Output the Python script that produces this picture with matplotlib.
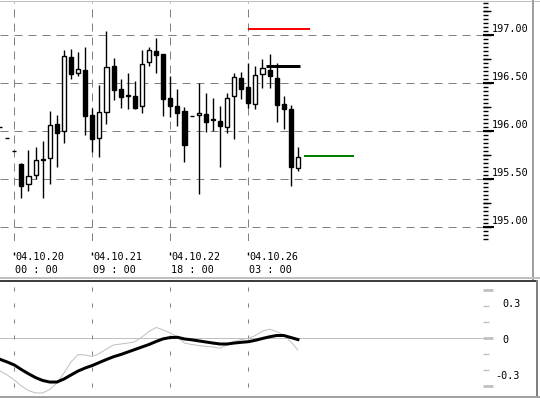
import numpy as np
import matplotlib
matplotlib.use('Agg')
import matplotlib.pyplot as plt
from matplotlib.lines import Line2D

plt.rcParams['lines.scale_dashes'] = False
plt.rcParams['font.family'] = ['DejaVu Sans Mono', 'DejaVu Sans']

# 3-hour bars, bar 0 = 04.10.20 00:00
bar_idx = np.arange(-2, 41)
opens = [196.04, 195.93, 195.79, 195.66, 195.45, 195.54, 195.70, 195.72, 196.07, 196.00,
         196.77, 196.60, 196.64, 196.17, 195.93, 196.20, 196.68, 196.44, 196.36, 196.36,
         196.26, 196.72, 196.83, 196.80, 196.34, 196.26, 196.21, 196.16, 196.17, 196.18,
         196.13, 196.10, 196.04, 196.36, 196.55, 196.46, 196.28, 196.59, 196.64, 196.55,
         196.28, 196.23, 195.61]
highs = [196.04, 195.93, 195.79, 195.67, 195.80, 195.83, 195.90, 196.21, 196.17, 196.84,
         196.85, 196.82, 196.88, 196.24, 196.48, 197.04, 196.76, 196.54, 196.60, 196.52,
         196.84, 196.88, 196.97, 196.80, 196.57, 196.44, 196.25, 196.16, 196.50, 196.40,
         196.34, 196.26, 196.40, 196.60, 196.61, 196.71, 196.68, 196.75, 196.80, 196.71,
         196.36, 196.27, 195.83]
lows = [196.04, 195.93, 195.79, 195.30, 195.38, 195.50, 195.30, 195.45, 195.63, 195.87,
        196.54, 196.57, 195.96, 195.78, 195.73, 196.07, 196.32, 196.24, 196.23, 196.23,
        196.19, 196.68, 196.60, 196.16, 196.15, 196.05, 195.68, 196.16, 195.34, 195.99,
        196.00, 195.62, 195.98, 195.92, 196.33, 196.24, 196.23, 196.45, 196.45, 196.09,
        196.02, 195.43, 195.58]
closes = [196.04, 195.93, 195.79, 195.43, 195.53, 195.70, 195.71, 196.06, 195.98, 196.78,
          196.59, 196.65, 196.16, 195.92, 196.20, 196.67, 196.43, 196.35, 196.37, 196.24,
          196.70, 196.84, 196.79, 196.33, 196.26, 196.19, 195.85, 196.16, 196.19, 196.09,
          196.115, 196.05, 196.34, 196.56, 196.44, 196.29, 196.58, 196.66, 196.57, 196.27,
          196.23, 195.63, 195.73]

# oscillator window
osc_slow = [-0.178, -0.200, -0.225, -0.263, -0.298, -0.330, -0.354, -0.367, -0.367, -0.342,
            -0.308, -0.275, -0.250, -0.229, -0.204, -0.179, -0.156, -0.138, -0.117, -0.096,
            -0.075, -0.054, -0.029, -0.007, 0.004, 0.006, -0.008, -0.015, -0.024, -0.033,
            -0.042, -0.050, -0.050, -0.042, -0.036, -0.031, -0.019, -0.004, 0.010, 0.021,
            0.021, 0.004, -0.013]
osc_fast = [-0.275, -0.308, -0.350, -0.400, -0.438, -0.458, -0.458, -0.429, -0.375, -0.292,
            -0.200, -0.138, -0.142, -0.154, -0.129, -0.092, -0.058, -0.050, -0.042, -0.032,
            0.008, 0.054, 0.088, 0.067, 0.042, 0.008, -0.042, -0.054, -0.063, -0.069,
            -0.075, -0.085, -0.058, -0.029, -0.013, -0.003, 0.021, 0.058, 0.073, 0.054,
            0.025, -0.033, -0.100]

# level lines: (price, start bar, end bar, colour, width px)
levels = [(197.066, 33.0, 41.7, '#ff0000', 2),
          (196.674, 35.5, 40.3, '#000000', 3),
          (195.743, 40.9, 47.9, '#008000', 2)]

grid_bars = [0, 11, 22, 33]
date_labels = ['04.10.20', '04.10.21', '04.10.22', '04.10.26']
time_labels = ['00 : 00', '09 : 00', '18 : 00', '03 : 00']
price_ticks = [195.0, 195.5, 196.0, 196.5, 197.0]
osc_labels = [0.3, 0.0, -0.3]

W, H = 540, 398
PX = 0.72  # one pixel in points at dpi 100
fig = plt.figure(figsize=(W / 100, H / 100), dpi=100)
fig.patch.set_facecolor('white')

xlim = (-14.3 / 7.0909, (483 - 14.3) / 7.0909)
ax = fig.add_axes([0, (H - 241) / H, 483 / W, 239 / H])
ax2 = fig.add_axes([0, (H - 395) / H, 483 / W, 113 / H])

for a in (ax, ax2):
    a.set_xlim(*xlim)
    for s in a.spines.values():
        s.set_visible(False)
    a.set_xticks([])
    a.patch.set_alpha(0)

# ---- price panel
ax.set_ylim(197 - 206 / 96, 197 + 33 / 96)
grid_dash = (0, (8 * PX, 6 * PX))
for p in price_ticks:
    ax.axhline(p, color='#808080', lw=PX, linestyle=grid_dash, zorder=0)
for g in grid_bars:
    ax.axvline(g, color='#808080', lw=PX, linestyle=grid_dash, zorder=0)

o = np.array(opens); c = np.array(closes)
ax.vlines(bar_idx, lows, highs, color='black', lw=1.0, zorder=2)
bull = c >= o
bottoms = np.minimum(o, c)
heights = np.abs(c - o)
ax.bar(bar_idx[bull], heights[bull], bottom=bottoms[bull], width=0.58,
       facecolor='white', edgecolor='black', linewidth=1.0, zorder=3)
ax.bar(bar_idx[~bull], heights[~bull], bottom=bottoms[~bull], width=0.58,
       facecolor='black', edgecolor='black', linewidth=1.0, zorder=3)

for price, b0, b1, col, w in levels:
    ax.hlines(price, b0, b1, color=col, lw=w * PX, zorder=4)

ax.yaxis.tick_right()
ax.set_yticks(price_ticks)
ax.set_yticklabels([])
ax.set_yticks(np.arange(194.875, 197.34, 1 / 24), minor=True)
ax.tick_params(axis='y', which='major', length=11 * PX, width=1.5, color='black', direction='out')
ax.tick_params(axis='y', which='minor', length=5 * PX, width=1, color='black', direction='out')
sec = ax.secondary_yaxis('right')
sec.set_yticks(np.arange(195.0, 197.3, 0.25))
sec.set_yticklabels([])
sec.tick_params(length=8 * PX, width=1, color='black')
sec.spines['right'].set_visible(False)

for p in price_ticks:
    ax.annotate(f'{p:.2f}', xy=(1, p), xycoords=('axes fraction', 'data'),
                xytext=(9, 1), textcoords='offset pixels', ha='left', va='bottom',
                fontsize=7.3, color='black')

xt = ax.get_xaxis_transform()
for g, d, t in zip(grid_bars, date_labels, time_labels):
    ax.vlines(g, -11 / 239, -14 / 239, transform=xt, color='black', lw=1, clip_on=False)
    ax.annotate(d, xy=(g, 0), xycoords=xt, xytext=(1, -16), textcoords='offset pixels',
                ha='left', va='center', fontsize=7.3)
    ax.annotate(t, xy=(g, 0), xycoords=xt, xytext=(1, -29), textcoords='offset pixels',
                ha='left', va='center', fontsize=7.3)

# ---- oscillator panel
ax2.set_ylim(-57 / 120, 56 / 120)
ax2.axhline(0, color='#c0c0c0', lw=PX, zorder=0)
for g in grid_bars:
    ax2.axvline(g, color='#808080', lw=PX, linestyle=(8 * PX, (4 * PX, 12 * PX)), zorder=0)
ax2.plot(bar_idx, osc_fast, color='#c0c0c0', lw=PX, zorder=2)
ax2.plot(bar_idx, osc_slow, color='black', lw=3 * PX, zorder=3)

ax2.yaxis.tick_right()
ax2.set_yticks([-0.4, 0, 0.4])
ax2.set_yticklabels([])
ax2.set_yticks(np.arange(-0.4, 0.41, 0.4 / 3), minor=True)
ax2.tick_params(axis='y', which='major', length=10 * PX, width=2, color='#c0c0c0')
ax2.tick_params(axis='y', which='minor', length=6 * PX, width=1, color='#c0c0c0')
for v in osc_labels:
    txt = '0' if v == 0 else f'{v:.1f}'
    ax2.annotate(txt, xy=(1, v), xycoords=('axes fraction', 'data'),
                 xytext=(19 if v >= 0 else 12, -2), textcoords='offset pixels',
                 ha='left', va='center', fontsize=7.3)


# ---- window borders
def border(x0, y0, x1, y1, color, w):
    fig.add_artist(Line2D([x0 / W, x1 / W], [1 - y0 / H, 1 - y1 / H],
                          transform=fig.transFigure, color=color, lw=w * PX))


border(0, 0.5, W, 0.5, '#c0c0c0', 1)
border(533, 0, 533, 279, '#a0a0a0', 2)
border(0, 277.5, 540, 277.5, '#c0c0c0', 2)
border(0, 281, 537, 281, 'black', 1.5)
border(537, 281, 537, 397, '#808080', 2)
border(0, 396.5, 540, 396.5, '#a0a0a0', 2)

fig.savefig('out.png', dpi=100)
